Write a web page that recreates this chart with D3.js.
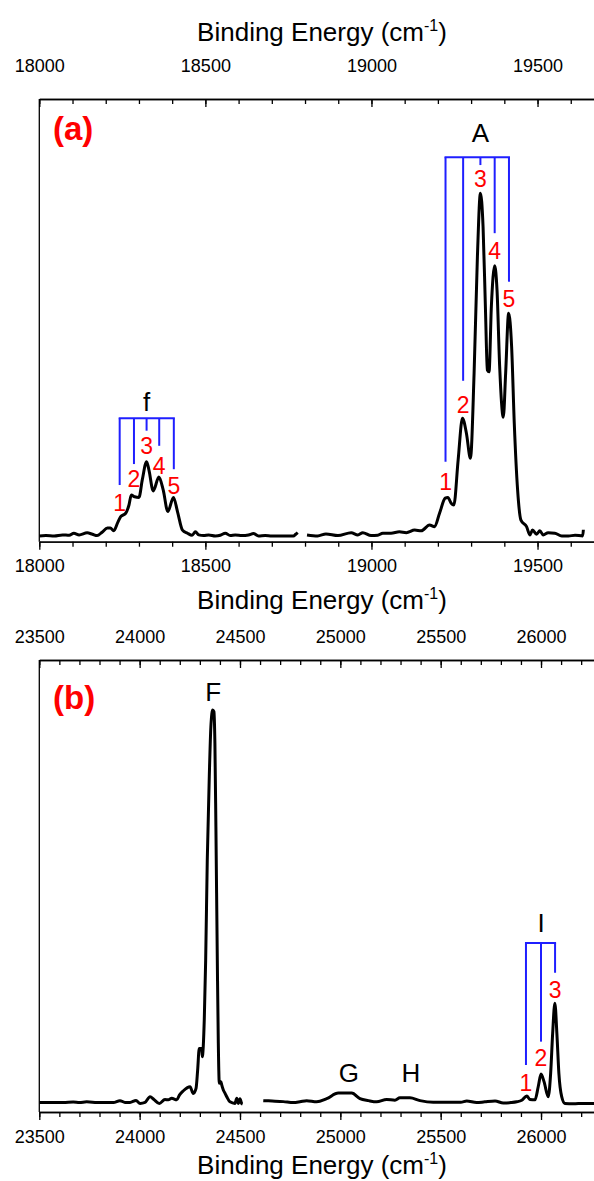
<!DOCTYPE html>
<meta charset="utf-8">
<title>Binding Energy spectra</title>
<style>
body { margin: 0; background: #fff; }
svg { display: block; background: #fff; }
</style>
<svg width="594" height="1181"></svg>
<script src="https://d3js.org/d3.v7.min.js"></script>
<script>
  // spectrum (a), two scan segments: [binding energy, intensity]
  var specA1 = [[18000,0.3],[18020,0.4],[18045,0.3],[18070,0.6],[18090,0.5],[18104,1.1],[18120,0.6],[18144,1.2],[18160,0.8],[18174,0.4],[18189,1.4],[18205,2.6],[18214,2.6],[18224,1.8],[18237,4.4],[18245,5.9],[18260,6.9],[18270,9.3],[18277,12.2],[18287,11.7],[18300,11.5],[18310,16.6],[18323,21.9],[18330,19.5],[18343,13.4],[18360,17.4],[18373,13.7],[18387,7.4],[18404,11.5],[18416,7.4],[18431,2.0],[18446,1.1],[18460,0.5],[18470,1.5],[18480,0.6],[18495,0.4],[18510,0.6],[18530,0.3],[18545,0.5],[18560,1.1],[18575,0.4],[18590,0.6],[18610,0.4],[18630,0.6],[18645,1.0],[18660,0.3],[18680,0.4],[18700,0.3],[18720,0.3],[18740,0.3],[18765,0.3],[18772,0.8],[18778,1.3]]
  var specA2 = [[18806,0.6],[18838,0.3],[18863,0.9],[18899,0.4],[18939,1.25],[18959,0.6],[18974,1.25],[18999,0.4],[19019,0.5],[19034,1.1],[19059,1.1],[19084,1.5],[19105,1.25],[19130,2.0],[19150,1.8],[19175,3.5],[19190,3.0],[19205,6.9],[19222,11.3],[19230,11.5],[19240,9.8],[19248,9.3],[19261,22.4],[19274,34.5],[19286,30.1],[19298,22.9],[19309,47.6],[19319,81.5],[19328,99.9],[19336,90.2],[19343,67],[19349,48.5],[19354,48],[19361,67],[19371,78.8],[19378,71.8],[19386,49.5],[19397,34.8],[19404,47.6],[19413,65],[19422,55.3],[19430,33],[19440,13.7],[19450,4.9],[19467,3.0],[19477,0.6],[19485,2.0],[19497,0.8],[19507,1.8],[19517,0.6],[19532,1.25],[19552,1.1],[19573,0.3],[19593,0.3],[19613,0.5],[19636,0.3],[19638,2.1]]

  // spectrum (b)
  var specB1 = [[23500,0.8],[23560,0.8],[23620,0.8],[23669,0.95],[23700,0.8],[23736,1.0],[23786,0.85],[23830,0.8],[23869,0.8],[23902,1.3],[23927,0.85],[23952,0.85],[23982,1.35],[24002,0.6],[24027,0.85],[24052,2.3],[24071,1.6],[24098,0.6],[24126,1.6],[24143,1.5],[24160,1.9],[24185,1.5],[24198,2.7],[24218,3.8],[24251,4.8],[24267,3.1],[24281,4.4],[24289,9.0],[24297,14.5],[24309,14.5],[24312,12.4],[24322,21.7],[24329,36.8],[24337,62.1],[24347,83.1],[24355,95.8],[24364,100],[24370,99.6],[24375,91.6],[24380,70.5],[24387,36.8],[24392,15.8],[24397,5.7],[24405,6.1],[24409,5.3],[24417,4.0],[24425,3.2],[24434,2.3],[24450,1.0],[24475,0.6],[24484,1.9],[24492,0.6],[24500,1.8],[24508,0.6],[24513,0.4]]
  var specB2 = [[24616,1.3],[24660,1.2],[24716,1.05],[24766,0.8],[24799,1.0],[24832,1.3],[24882,1.0],[24932,1.8],[24990,3.2],[25057,3.2],[25098,1.8],[25140,1.3],[25181,1.0],[25231,1.6],[25272,1.4],[25297,2.0],[25347,2.0],[25397,1.3],[25463,0.9],[25546,0.9],[25600,0.9],[25630,1.2],[25679,0.8],[25720,1.0],[25771,1.2],[25812,0.7],[25850,0.8],[25879,1.0],[25904,1.4],[25929,2.5],[25945,1.6],[25970,1.5],[25986,4.8],[26000,8.0],[26015,6.1],[26036,2.3],[26048,8.2],[26058,18.3],[26069,25.9],[26079,18.3],[26089,8.2],[26103,2.3],[26119,0.6],[26161,0.5],[26211,0.6],[26264,0.6]]

  // axis ticks
  var majorA = [18000, 18500, 19000, 19500]
  var minorA = d3.range(18000, 19700, 100)
  var majorB = [23500, 24000, 24500, 25000, 25500, 26000]
  var minorB = d3.range(23500, 26300, 100)

  // progression brackets: line positions, lower ends, bar height, number positions
  var bracketA = { e: [19223, 19276, 19328, 19371, 19414], low: [21.9, 45.4, 108.1, 88.3, 74.2], top: 110.4,
                   num: [16.1, 38.4, 104, 83.1, 69.1], name: "A", nameE: 19328, nameY: 117.4 }
  var bracketf = { e: [18242, 18285, 18323, 18361, 18405], low: [15.1, 21.2, 30.9, 26.5, 19.7], top: 34.5,
                   num: [10, 16.8, 26.5, 20.6, 14.8], name: "f", nameE: 18323, nameY: 39.3 }
  var bracketI = { e: [25925, 26000, 26070], low: [10.3, 16.2, 33.6], top: 41.1,
                   num: [5.8, 12.0, 29.3], name: "I", nameE: 26000, nameY: 46.3 }

  // single band labels
  var bandsB = [["F", 24367, 104.6], ["G", 25043, 8.2], ["H", 25352, 8.2]]

  var FONT = "Arial, 'Liberation Sans', sans-serif"
  var RED = "#ff0000", BLUE = "#1f1fff"
  var svg = d3.select("svg")

  function title(y) {
    var t = svg.append("text").attr("x", 322).attr("y", y).attr("text-anchor", "middle")
      .attr("font-family", FONT).attr("font-size", 26).attr("fill", "#000")
    t.append("tspan").text("Binding Energy (cm")
    t.append("tspan").attr("font-size", 16).attr("dy", -10).text("-1")
    t.append("tspan").attr("dy", 10).text(")")
  }

  function styleAxis(sel) {
    sel.attr("font-family", FONT).attr("font-size", 18)
    sel.selectAll("path, line").attr("stroke", "#000").attr("stroke-width", 1.3)
    sel.selectAll("text").attr("fill", "#000")
  }

  function drawPanel(p) {
    var x = d3.scaleLinear().domain(p.xDomain).range([39.3, 594])
    var y = d3.scaleLinear().domain(p.yDomain).range([p.bottom, p.top])
    var g = svg.append("g")

    // left frame line
    g.append("line").attr("x1", x.range()[0]).attr("x2", x.range()[0])
      .attr("y1", p.top).attr("y2", p.bottom).attr("stroke", "#000").attr("stroke-width", 1.3)

    // bottom axis (ticks outward)
    g.append("g").attr("transform", "translate(0," + p.bottom + ")")
      .call(d3.axisBottom(x).tickValues(p.minor).tickSize(5).tickSizeOuter(0).tickFormat(""))
      .call(styleAxis)
    g.append("g").attr("transform", "translate(0," + p.bottom + ")")
      .call(d3.axisBottom(x).tickValues(p.major).tickSize(8).tickSizeOuter(0).tickPadding(10).tickFormat(d3.format("d")))
      .call(styleAxis)

    // top axis (ticks inward)
    g.append("g").attr("transform", "translate(0," + p.top + ")")
      .call(d3.axisTop(x).tickValues(p.minor).tickSize(-5).tickSizeOuter(0).tickFormat(""))
      .call(styleAxis)
    g.append("g").attr("transform", "translate(0," + p.top + ")")
      .call(d3.axisTop(x).tickValues(p.major).tickSize(-8).tickSizeOuter(0).tickPadding(p.topPad).tickFormat(d3.format("d")))
      .call(styleAxis)

    var line = d3.line().x(function(d) { return x(d[0]) }).y(function(d) { return y(d[1]) })
      .curve(d3.curveMonotoneX)
    p.specs.forEach(function(s) {
      g.append("path").attr("d", line(s)).attr("fill", "none").attr("stroke", "#000")
        .attr("stroke-width", 3).attr("stroke-linejoin", "round")
    })

    p.brackets.forEach(function(b) {
      g.append("line").attr("x1", x(b.e[0]) - 1).attr("x2", x(b.e[b.e.length - 1]) + 1)
        .attr("y1", y(b.top)).attr("y2", y(b.top)).attr("stroke", BLUE).attr("stroke-width", 2)
      b.e.forEach(function(e, i) {
        g.append("line").attr("x1", x(e)).attr("x2", x(e)).attr("y1", y(b.top)).attr("y2", y(b.low[i]))
          .attr("stroke", BLUE).attr("stroke-width", 2)
        g.append("text").attr("x", x(e)).attr("y", y(b.num[i])).attr("dy", "0.35em")
          .attr("text-anchor", "middle").attr("font-family", FONT).attr("font-size", 23)
          .attr("fill", RED).text(i + 1)
      })
      g.append("text").attr("x", x(b.nameE)).attr("y", y(b.nameY)).attr("dy", "0.35em")
        .attr("text-anchor", "middle").attr("font-family", FONT).attr("font-size", 26)
        .attr("fill", "#000").text(b.name)
    })

    p.bands.forEach(function(b) {
      g.append("text").attr("x", x(b[1])).attr("y", y(b[2])).attr("dy", "0.35em")
        .attr("text-anchor", "middle").attr("font-family", FONT).attr("font-size", 26)
        .attr("fill", "#000").text(b[0])
    })

    g.append("text").attr("x", 53).attr("y", p.labelY).attr("dy", "0.35em")
      .attr("font-family", FONT).attr("font-size", 33).attr("font-weight", "bold")
      .attr("fill", RED).text(p.label)
  }

  drawPanel({ xDomain: [18000, 19670], yDomain: [-1.37, 127.3], top: 99, bottom: 541.7, topPad: 27,
              major: majorA, minor: minorA, specs: [specA1, specA2], brackets: [bracketA, bracketf],
              bands: [], label: "(a)", labelY: 128 })
  drawPanel({ xDomain: [23500, 26264], yDomain: [-1.57, 112.6], top: 660, bottom: 1112, topPad: 17.5,
              major: majorB, minor: minorB, specs: [specB1, specB2], brackets: [bracketI],
              bands: bandsB, label: "(b)", labelY: 697 })

  title(41)
  title(609)
  title(1174)
</script>
